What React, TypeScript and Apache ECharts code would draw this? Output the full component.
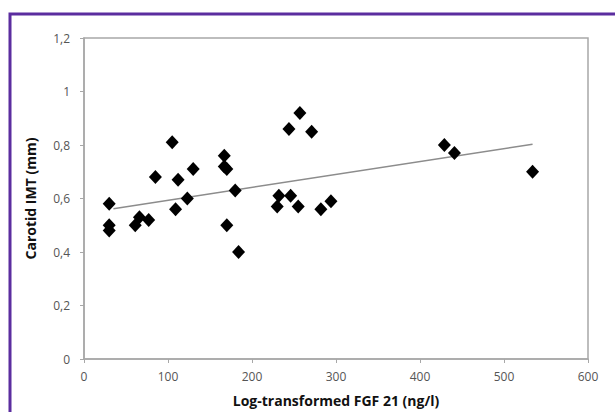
import React, { useEffect, useRef } from "react";
import * as echarts from "echarts";

const fgf21: number[] = [30, 30, 30, 61, 66, 77, 85, 105, 109, 112, 123, 130, 167, 167, 170, 170, 180, 184, 230, 232, 246, 244, 257, 255, 271, 282, 294, 429, 441, 534];
const imt: number[] = [0.58, 0.50, 0.48, 0.50, 0.53, 0.52, 0.68, 0.81, 0.56, 0.67, 0.60, 0.71, 0.76, 0.72, 0.71, 0.50, 0.63, 0.40, 0.57, 0.61, 0.61, 0.86, 0.92, 0.57, 0.85, 0.56, 0.59, 0.80, 0.77, 0.70];
const trendX: number[] = [35, 534];
const trendY: number[] = [0.562, 0.803];

const xTitle = "Log-transformed FGF 21 (ng/l)";
const yTitle = "Carotid IMT (mm)";

export default function App() {
  const ref = useRef<HTMLDivElement>(null);
  useEffect(() => {
    if (!ref.current) return;
    const chart = echarts.init(ref.current, null, { renderer: "svg" });
    const font = "'Open Sans', Lato, sans-serif";
    chart.setOption({
      animation: false,
      backgroundColor: "#ffffff",
      grid: {
        left: 84,
        right: 27,
        top: 38,
        bottom: 51,
        show: true,
        borderColor: "#a8a8a8",
        borderWidth: 1.5,
      },
      xAxis: {
        type: "value",
        min: 0,
        max: 600,
        interval: 100,
        name: xTitle,
        nameLocation: "middle",
        nameGap: 34,
        nameTextStyle: { fontFamily: font, fontWeight: "bold", fontSize: 14, color: "#111" },
        axisLine: { show: true, lineStyle: { color: "#a8a8a8", width: 1.5 } },
        axisTick: { show: true, length: 4, lineStyle: { color: "#a8a8a8" } },
        splitLine: { show: false },
        axisLabel: { fontFamily: font, fontSize: 12, color: "#555", margin: 11 },
      },
      yAxis: {
        type: "value",
        min: 0,
        max: 1.2,
        interval: 0.2,
        name: yTitle,
        nameLocation: "middle",
        nameGap: 47,
        nameTextStyle: { fontFamily: font, fontWeight: "bold", fontSize: 14, color: "#111" },
        axisLine: { show: true, lineStyle: { color: "#a8a8a8", width: 1.5 } },
        axisTick: { show: true, length: 4, lineStyle: { color: "#a8a8a8" } },
        splitLine: { show: false },
        axisLabel: {
          fontFamily: font,
          fontSize: 12,
          color: "#555",
          margin: 14,
          formatter: (v: number) => String(Math.round(v * 10) / 10).replace(".", ","),
        },
      },
      graphic: [
        {
          type: "rect",
          shape: { x: 10, y: 14, width: 700, height: 500 },
          style: { fill: "none", stroke: "#5b2d9f", lineWidth: 3 },
          z: 100,
        },
      ],
      series: [
        {
          type: "line",
          data: trendX.map((x, i) => [x, trendY[i]]),
          showSymbol: false,
          symbol: "none",
          lineStyle: { color: "#8c8c8c", width: 1.5 },
          z: 2,
        },
        {
          type: "scatter",
          data: fgf21.map((x, i) => [x, imt[i]]),
          symbol: "diamond",
          symbolSize: [13, 14],
          itemStyle: { color: "#000000", opacity: 1 },
          z: 3,
        },
      ],
    });
    return () => chart.dispose();
  }, []);
  return (
    <div
      ref={ref}
      style={{ position: "fixed", left: 0, top: 0, width: 615, height: 412, background: "#fff" }}
    />
  );
}
